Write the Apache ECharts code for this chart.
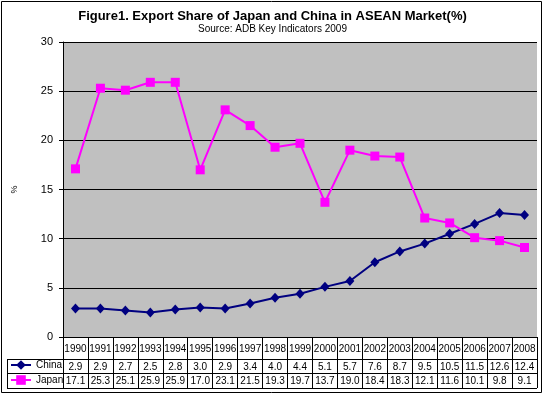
<!DOCTYPE html>
<html>
<head>
<meta charset="utf-8">
<script src="https://cdn.jsdelivr.net/npm/echarts@6/dist/echarts.min.js"></script>
<style>
html,body{margin:0;padding:0;background:#fff;}
#c{width:545px;height:397px;}
</style>
</head>
<body>
<div id="c"></div>
<script>
var years = ['1990','1991','1992','1993','1994','1995','1996','1997','1998','1999','2000','2001','2002','2003','2004','2005','2006','2007','2008'];
var china = [2.9,2.9,2.7,2.5,2.8,3.0,2.9,3.4,4.0,4.4,5.1,5.7,7.6,8.7,9.5,10.5,11.5,12.6,12.4];
var japan = [17.1,25.3,25.1,25.9,25.9,17.0,23.1,21.5,19.3,19.7,13.7,19.0,18.4,18.3,12.1,11.6,10.1,9.8,9.1];
var yTicks = [0,5,10,15,20,25,30];

var FONT = '"Liberation Sans", Arial, sans-serif';
var chart = echarts.init(document.getElementById('c'), null, {renderer:'canvas'});
var option = {
  backgroundColor:'#ffffff',
  animation:false,
  textStyle:{fontFamily:FONT},
  title:{
    text:'Figure1. Export Share of Japan and China in ASEAN Market(%)',
    subtext:'Source: ADB Key Indicators 2009',
    left:'center', top:5, itemGap:1,
    textStyle:{fontSize:13,fontWeight:'bold',color:'#000',fontFamily:FONT},
    subtextStyle:{fontSize:10,color:'#000',fontFamily:FONT}
  },
  legend:[
    {data:['China'], left:10, top:360, orient:'vertical', itemWidth:20, itemHeight:12, padding:0,
     textStyle:{fontSize:10,color:'#000',fontFamily:FONT}},
    {data:['Japan'], left:10, top:375, orient:'vertical', itemWidth:20, itemHeight:12, padding:0,
     textStyle:{fontSize:10,color:'#000',fontFamily:FONT}}
  ],
  grid:{left:63, right:8, top:42, bottom:60, show:true, backgroundColor:'#c0c0c0', borderWidth:0},
  xAxis:{
    type:'category', data:years, boundaryGap:true,
    axisLine:{lineStyle:{color:'#000',width:1}},
    axisTick:{show:true, length:51, interval:0, lineStyle:{color:'#000',width:1}},
    axisLabel:{
      interval:0, margin:1, color:'#000',
      formatter:function(v, i){
        return '{y|'+v+'}\n{v|'+china[i].toFixed(1)+'}\n{w|'+japan[i].toFixed(1)+'}';
      },
      rich:{
        y:{fontSize:10, lineHeight:22, color:'#000', fontFamily:FONT},
        v:{fontSize:10, lineHeight:14, color:'#000', fontFamily:FONT},
        w:{fontSize:10, lineHeight:15, color:'#000', fontFamily:FONT}
      }
    },
    splitLine:{show:false}
  },
  yAxis:{
    type:'value', min:yTicks[0], max:yTicks[yTicks.length-1], interval:5,
    name:'%', nameLocation:'middle', nameGap:44, nameRotate:90,
    nameTextStyle:{fontSize:9,color:'#000',fontFamily:FONT},
    axisLine:{show:true, lineStyle:{color:'#000',width:1}},
    axisTick:{show:true, length:4, lineStyle:{color:'#000'}},
    axisLabel:{fontSize:11, color:'#000', margin:10, fontFamily:FONT},
    splitLine:{show:true, lineStyle:{color:'#000',width:1}}
  },
  series:[
    {name:'China', type:'line', data:china, symbol:'diamond', symbolSize:[9,10],
     lineStyle:{color:'#000080',width:2}, itemStyle:{color:'#000080'}},
    {name:'Japan', type:'line', data:japan, symbol:'rect', symbolSize:9,
     lineStyle:{color:'#ff00ff',width:2}, itemStyle:{color:'#ff00ff'}}
  ],
  graphic:[
    {type:'rect', shape:{x:1.5,y:1.5,width:540,height:391}, style:{fill:null, stroke:'#000', lineWidth:1}, silent:true},
    {type:'line', shape:{x1:7,y1:359.5,x2:537,y2:359.5}, style:{stroke:'#000',lineWidth:1}, silent:true},
    {type:'line', shape:{x1:7,y1:373.5,x2:537,y2:373.5}, style:{stroke:'#000',lineWidth:1}, silent:true},
    {type:'line', shape:{x1:7,y1:388.5,x2:537,y2:388.5}, style:{stroke:'#000',lineWidth:1}, silent:true},
    {type:'line', shape:{x1:7.5,y1:359,x2:7.5,y2:389}, style:{stroke:'#000',lineWidth:1}, silent:true}
  ]
};
chart.setOption(option);
</script>
</body>
</html>
